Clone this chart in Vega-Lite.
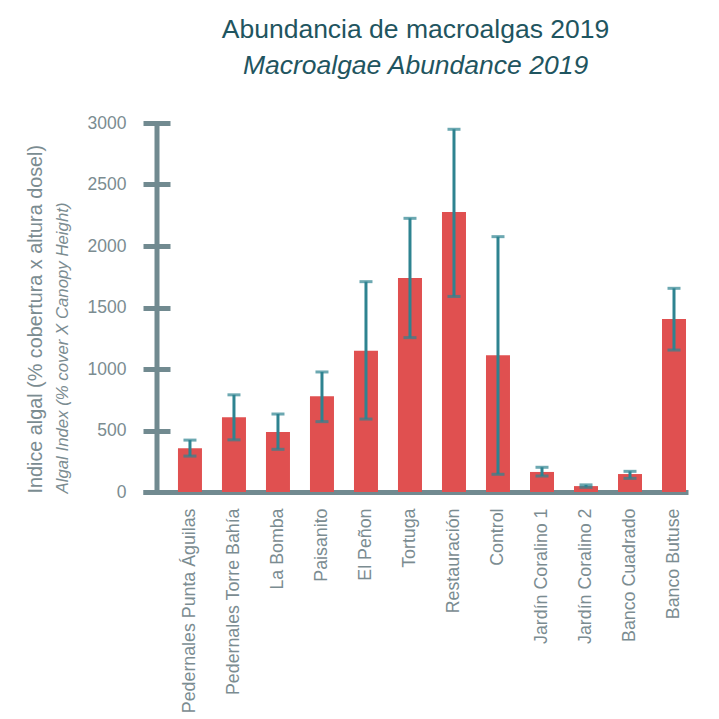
{
  "$schema": "https://vega.github.io/schema/vega-lite/v6.json",
  "width": 545,
  "height": 369,
  "autosize": {"type": "none"},
  "padding": {"left": 143, "top": 123, "right": 31, "bottom": 227},
  "background": "white",
  "title": {
    "text": "Abundancia de macroalgas 2019",
    "subtitle": "Macroalgae Abundance 2019",
    "anchor": "middle",
    "frame": "group",
    "font": "Liberation Sans",
    "fontSize": 26.5,
    "fontWeight": "normal",
    "color": "#1f5560",
    "subtitleFont": "Liberation Sans",
    "subtitleFontSize": 26.5,
    "subtitleFontStyle": "italic",
    "subtitleColor": "#1f5560",
    "subtitlePadding": 9,
    "offset": 35
  },
  "config": {"view": {"stroke": null}},
  "data": {
    "values": [
      {"site": "Pedernales Punta Águilas", "value": 355, "lo": 292, "hi": 422},
      {"site": "Pedernales Torre Bahía", "value": 607, "lo": 424, "hi": 790},
      {"site": "La Bomba", "value": 488, "lo": 347, "hi": 634},
      {"site": "Paisanito", "value": 778, "lo": 572, "hi": 976},
      {"site": "El Peñon", "value": 1149, "lo": 593, "hi": 1710},
      {"site": "Tortuga", "value": 1740, "lo": 1255, "hi": 2225},
      {"site": "Restauración", "value": 2276, "lo": 1590, "hi": 2949},
      {"site": "Control", "value": 1112, "lo": 144, "hi": 2076},
      {"site": "Jardín Coralino 1", "value": 163, "lo": 130, "hi": 201},
      {"site": "Jardín Coralino 2", "value": 48, "lo": 38, "hi": 58},
      {"site": "Banco Cuadrado", "value": 146, "lo": 111, "hi": 168},
      {"site": "Banco Butuse", "value": 1406, "lo": 1154, "hi": 1656}
    ]
  },
  "encoding": {
    "x": {
      "field": "site",
      "type": "nominal",
      "sort": null,
      "scale": {"type": "band", "paddingInner": 0.4545, "paddingOuter": 0.42, "align": 0.946},
      "axis": {
        "title": null,
        "domain": true,
        "domainColor": "#718a90",
        "domainWidth": 5,
        "ticks": false,
        "tickSize": 0,
        "labelAngle": -90,
        "labelAlign": "right",
        "labelBaseline": "middle",
        "labelPadding": 16,
        "labelFont": "Liberation Sans",
        "labelFontSize": 17.8,
        "labelColor": "#7b8c91",
        "labelLimit": 300
      }
    }
  },
  "layer": [
    {
      "mark": {"type": "bar", "color": "#e05050"},
      "encoding": {
        "y": {
          "field": "value",
          "type": "quantitative",
          "scale": {"domain": [0, 3000], "nice": false},
          "axis": {
            "orient": "left",
            "offset": -27,
            "domain": false,
            "grid": false,
            "ticks": true,
            "tickSize": 27,
            "tickWidth": 5,
            "tickColor": "#718a90",
            "values": [0, 500, 1000, 1500, 2000, 2500, 3000],
            "format": "d",
            "labelPadding": 17,
            "labelFont": "Liberation Sans",
            "labelFontSize": 17.5,
            "labelColor": "#7b8c91",
            "title": "Indice algal (% cobertura x altura dosel)",
            "titleFont": "Liberation Sans",
            "titleFontSize": 19.8,
            "titleFontWeight": "normal",
            "titleColor": "#7b8c91",
            "titleAngle": -90,
            "titleAlign": "left",
            "titleBaseline": "middle",
            "titleX": -135,
            "titleY": 370
          }
        }
      }
    },
    {
      "mark": {"type": "rule", "color": "#2e8390", "strokeWidth": 3},
      "encoding": {
        "y": {
          "field": "lo",
          "type": "quantitative",
          "scale": {"domain": [0, 3000], "nice": false},
          "axis": {
            "orient": "left",
            "offset": -13.5,
            "domain": true,
            "domainWidth": 5,
            "domainColor": "#718a90",
            "grid": false,
            "ticks": false,
            "labels": false,
            "title": "Algal Index (% cover X Canopy Height)",
            "titleFont": "Liberation Sans",
            "titleFontSize": 16.8,
            "titleFontWeight": "normal",
            "titleFontStyle": "italic",
            "titleColor": "#7b8c91",
            "titleAngle": -90,
            "titleAlign": "left",
            "titleBaseline": "middle",
            "titleX": -94.5,
            "titleY": 370
          }
        },
        "y2": {"field": "hi"}
      }
    },
    {
      "mark": {"type": "tick", "orient": "horizontal", "color": "#2e8390", "size": 13, "thickness": 3},
      "encoding": {
        "y": {"field": "lo", "type": "quantitative", "scale": {"domain": [0, 3000], "nice": false}, "axis": null}
      }
    },
    {
      "mark": {"type": "tick", "orient": "horizontal", "color": "#2e8390", "size": 13, "thickness": 3},
      "encoding": {
        "y": {"field": "hi", "type": "quantitative", "scale": {"domain": [0, 3000], "nice": false}, "axis": null}
      }
    }
  ],
  "resolve": {"axis": {"y": "independent"}}
}
